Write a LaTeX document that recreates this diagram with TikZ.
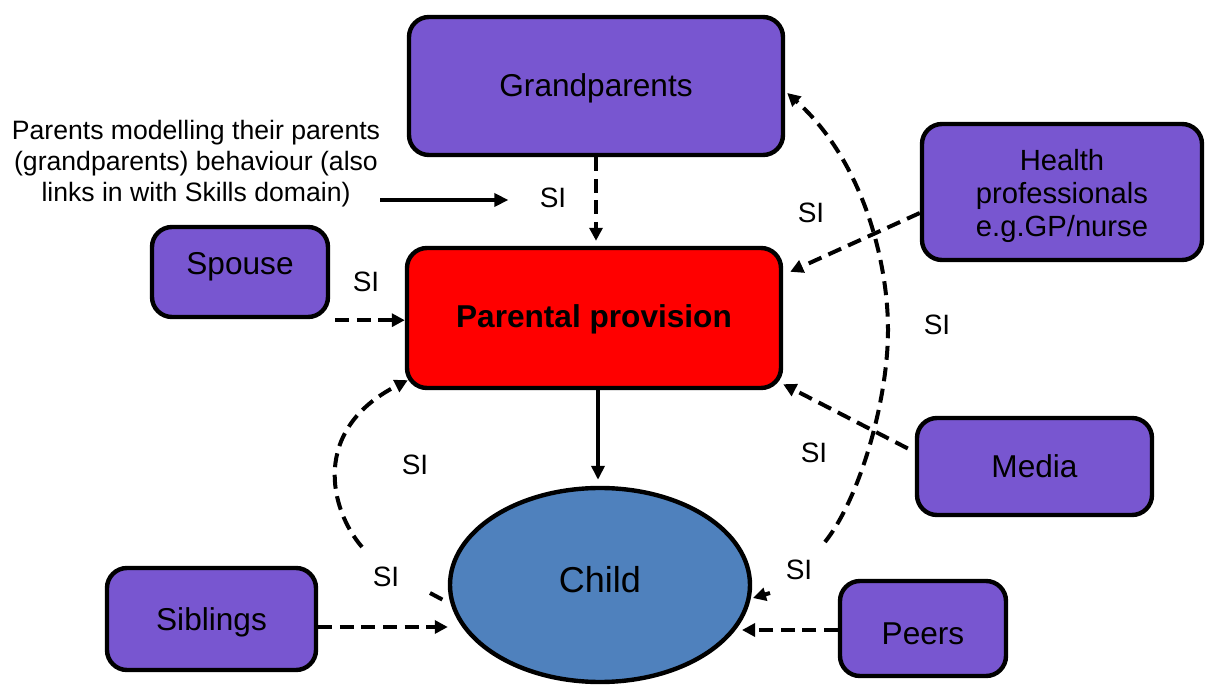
\documentclass[tikz,border=0pt]{standalone}
\usepackage{fontspec}
\setmainfont{Liberation Sans}
\usetikzlibrary{arrows.meta,shapes.geometric}
\definecolor{boxpurple}{HTML}{7856D0}
\definecolor{childblue}{HTML}{4F81BD}
\definecolor{ppred}{HTML}{FF0000}
\begin{document}
\begin{tikzpicture}[x=0.5pt,y=-0.5pt,
  pbox/.style={draw=black, line width=2.2pt, rounded corners=10pt, fill=boxpurple,
    inner sep=0pt},
  boxtext/.style={inner sep=0pt, align=center, font=\fontsize{15.8}{19}\selectfont},
  dasharrow/.style={line width=2pt, dash pattern=on 7pt off 3.8pt,
    -{Triangle[length=6.5pt,width=6.5pt]}},
  dashline/.style={line width=2pt, dash pattern=on 7pt off 3.8pt},
  solidarrow/.style={line width=2pt, -{Triangle[length=7pt,width=6.5pt]}},
  silabel/.style={inner sep=0pt, font=\fontsize{14}{16}\selectfont}
]
\useasboundingbox (0,0) rectangle (1205,689);

% boxes
\node[pbox, minimum width=187pt, minimum height=69pt,
  label={[boxtext, yshift=-1pt]center:Grandparents}] (gp) at (596,86) {};
\node[pbox, fill=ppred, minimum width=187pt, minimum height=70pt,
  label={[boxtext, font=\fontsize{15.8}{19}\selectfont\bfseries, yshift=-0.5pt]center:Parental provision}] (pp) at (594,318) {};
\node[pbox, minimum width=140pt, minimum height=68pt,
  label={[boxtext, font=\fontsize{14.6}{16.5}\selectfont, yshift=-2pt]center:Health\\professionals\\e.g.GP/nurse}] (hp) at (1062,192) {};
\node[pbox, minimum width=88pt, minimum height=45pt,
  label={[boxtext, yshift=2.5pt]center:Spouse}] (sp) at (240,272) {};
\node[pbox, minimum width=117.5pt, minimum height=48.5pt,
  label={[boxtext]center:Media}] (md) at (1034.5,466.5) {};
\node[pbox, minimum width=104.5pt, minimum height=51pt,
  label={[boxtext, yshift=-1.5pt]center:Siblings}] (sib) at (211.5,619) {};
\node[pbox, minimum width=83pt, minimum height=47.5pt,
  label={[boxtext, yshift=-2.5pt]center:Peers}] (pr) at (923,628.5) {};
\node[ellipse, draw=black, line width=2.2pt, fill=childblue, inner sep=0pt,
  minimum width=150pt, minimum height=97pt,
  label={[boxtext, font=\fontsize{18}{22}\selectfont, yshift=2.5pt]center:Child}] (ch) at (600,585) {};

% annotation
\node[inner sep=0pt, align=center, font=\fontsize{13.3}{15.5}\selectfont] (an) at (196,164)
  {Parents modelling their parents\\(grandparents) behaviour (also\\links in with Skills domain)};

% SI labels
\node[silabel] (si1) at (553,198) {SI};
\node[silabel] (si2) at (366,282) {SI};
\node[silabel] (si3) at (811,213) {SI};
\node[silabel] (si4) at (937,325) {SI};
\node[silabel] (si5) at (814,453) {SI};
\node[silabel] (si6) at (799,570) {SI};
\node[silabel] (si7) at (415,465) {SI};
\node[silabel] (si8) at (386,577) {SI};

% connectors
\draw[dasharrow, shorten >=2.5pt] (gp.south) -- (gp.south |- pp.north);
\draw[solidarrow, shorten >=15.5pt] (an.east |- 0,200) -- (si1.west |- 0,200);
\coordinate (spa) at ([xshift=2.5pt,yshift=-0.5pt]sp.south east);
\draw[dasharrow] (spa) -- (spa -| pp.west);
\draw[dasharrow] ([yshift=-10.5pt]hp.west) -- ([shift={(7,26)}]pp.north east);
\draw[dasharrow] ([shift={(-7,-18)}]md.west) -- ([yshift=3pt]pp.south east);
\draw[solidarrow, shorten >=3pt] ([xshift=2pt]pp.south) -- ([xshift=2pt]pp.south |- ch.north);

\coordinate (c1) at (825,542);
\draw[dasharrow] (c1) .. controls (860,498) and (888,400) .. (888,330)
  .. controls (888,260) and (862,160) .. ([shift={(2,7)}]gp.east);
\coordinate (c2) at (362,547);
\draw[dasharrow] (c2) .. controls (330,510) and (310,430) .. ([shift={(3,-10)}]pp.south west);
\coordinate (ld) at (430,593);
\draw[dashline] (ld) -- ++(15,8);
\coordinate (rd) at (770,593);
\draw[line width=2pt, -{Triangle[length=6.5pt,width=6.5pt]}] (rd) -- ++(-17,5);

\coordinate (sba) at ([yshift=-4pt]sib.east);
\draw[dasharrow] (sba) -- (sba -| ch.west);
\coordinate (pra) at ([yshift=-0.75pt]pr.west);
\coordinate (pre) at (742,630);
\draw[dasharrow] (pra) -- (pre);
\end{tikzpicture}
\end{document}
